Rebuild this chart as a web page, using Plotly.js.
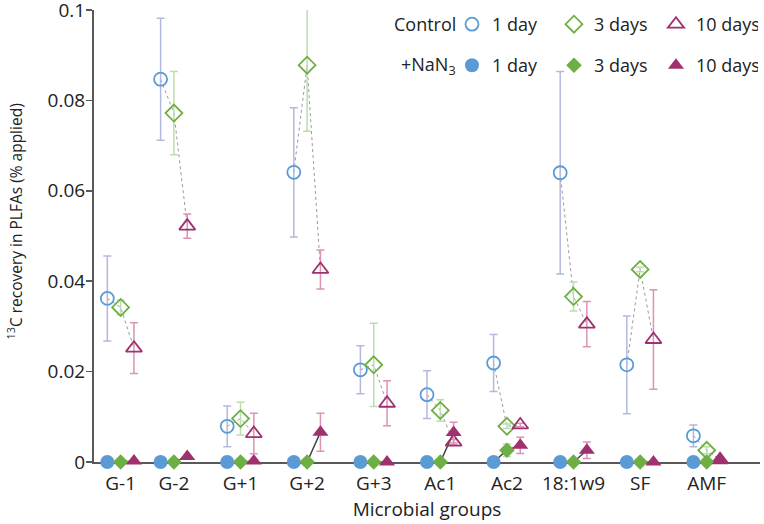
<!DOCTYPE html>
<html>
<head>
<meta charset="utf-8">
<script src="https://cdn.plot.ly/plotly-3.0.1.min.js"></script>
<style>html,body{margin:0;padding:0;background:#fff;}#chart{width:764px;height:524px;}</style>
</head>
<body>
<div id="chart"></div>
<script>
// ---- data ----
const groups = ['G-1','G-2','G+1','G+2','G+3','Ac1','Ac2','18:1w9','SF','AMF'];
const groupX = [1.2, 2, 3, 4, 5, 6, 7, 8, 9, 10];
const dayLabels = ['1 day', '3 days', '10 days'];
const yTicks = [0, 0.02, 0.04, 0.06, 0.08, 0.1];
const yTickText = ['0', '0.02', '0.04', '0.06', '0.08', '0.1'];

const ctrl1    = [0.0362, 0.0847, 0.0079, 0.0641, 0.0204, 0.0149, 0.0219, 0.0640, 0.0215, 0.0058];
const ctrl1Err = [0.0094, 0.0135, 0.0045, 0.0143, 0.0053, 0.0053, 0.0063, 0.0224, 0.0108, 0.0024];
const ctrl3    = [0.0342, 0.0772, 0.0096, 0.0878, 0.0215, 0.0114, 0.0079, 0.0366, 0.0426, 0.0026];
const ctrl3Err = [0.0016, 0.0092, 0.0036, 0.0146, 0.0092, 0.0024, 0.0005, 0.0032, 0.0005, 0.0008];
const ctrl10   = [0.0252, 0.0522, 0.0063, 0.0426, 0.0130, 0.0044, 0.0082, 0.0305, 0.0271, 0.0005];
const ctrl10Err= [0.0056, 0.0027, 0.0045, 0.0043, 0.0050, 0.0006, 0.0004, 0.0050, 0.0110, 0.0005];

const nan1     = [0, 0, 0, 0, 0, 0, 0, 0, 0, 0];
const nan1Err  = [0, 0, 0, 0, 0, 0, 0, 0, 0, 0];
const nan3     = [0, 0, 0, 0, 0, 0, 0.0026, 0, 0, 0];
const nan3Err  = [0, 0, 0, 0, 0, 0, 0.0014, 0, 0, 0];
const nan10    = [0.0002, 0.0012, 0.0002, 0.0066, 0, 0.0065, 0.0037, 0.0026, 0, 0.0004];
const nan10Err = [0, 0, 0, 0.0042, 0, 0.0023, 0.0018, 0.0018, 0, 0];

// ---- styles ----
const FONT = 'Open Sans, Noto Sans, sans-serif';
const DAY_OFFSET = [-0.2, 0, 0.2];
const BLUE = '#5B9BD5', GREEN = '#6DAF45', MAG = '#A0306E';
const EBLUE = '#B3B8DE', EGREEN = '#BCDDAE', EMAG = '#DC93B4';

function xs(k){ return groupX.map(g => g + DAY_OFFSET[k]); }

function connector(sets, color, dash, width){
  const x = [], y = [];
  groupX.forEach((g, i) => {
    sets.forEach((s, k) => { x.push(g + DAY_OFFSET[k]); y.push(s[i]); });
    x.push(null); y.push(null);
  });
  return {x, y, type:'scatter', mode:'lines', showlegend:false, hoverinfo:'skip',
          line:{color, dash, width}, cliponaxis:false};
}

function pts(k, vals, errs, symbol, color, ecolor, size, lw, legend){
  return {
    x: xs(k), y: vals, type:'scatter', mode:'markers', name: dayLabels[k],
    legend: legend, cliponaxis:false,
    marker:{symbol, size, color, line:{color, width:lw}},
    error_y:{type:'data', array: errs, visible:true, color: ecolor, thickness:1.5, width:4}
  };
}

const traces = [
  connector([ctrl1, ctrl3, ctrl10], '#9a9a9a', 'dot', 1),
  connector([nan1, nan3, nan10], '#444444', 'solid', 1.5),
  pts(0, ctrl1, ctrl1Err, 'circle-open', BLUE, EBLUE, 13, 1.8, 'legend'),
  pts(1, ctrl3, ctrl3Err, 'diamond-open', GREEN, EGREEN, 13, 1.8, 'legend'),
  pts(2, ctrl10, ctrl10Err, 'triangle-up-open', MAG, EMAG, 14, 1.8, 'legend'),
  pts(0, nan1, nan1Err, 'circle', BLUE, EBLUE, 14, 0, 'legend2'),
  pts(1, nan3, nan3Err, 'diamond', GREEN, EGREEN, 12, 0, 'legend2'),
  pts(2, nan10, nan10Err, 'triangle-up', MAG, EMAG, 14, 0, 'legend2')
];

const legendCommon = {
  orientation:'h', xanchor:'left', yanchor:'middle',
  entrywidth:57, entrywidthmode:'pixels', itemwidth:30,
  font:{family:FONT, size:18, color:'#222'}, bgcolor:'rgba(0,0,0,0)', tracegroupgap:0
};

const layout = {
  width:764, height:524,
  margin:{l:94, r:4, t:10, b:62},
  paper_bgcolor:'#fff', plot_bgcolor:'#fff',
  font:{family:FONT, size:18, color:'#222'},
  showlegend:true,
  legend: Object.assign({}, legendCommon, {x:0.5375, y:0.968}),
  legend2: Object.assign({}, legendCommon, {x:0.5375, y:0.877}),
  xaxis:{
    range:[0.8, 10.8], tickvals: groupX, ticktext: groups,
    showgrid:false, zeroline:false, showline:true, linecolor:'#595959', linewidth:2,
    ticks:'', ticklabelstandoff:3, layer:'below traces', tickfont:{family:FONT, size:19, color:'#222'},
    title:{text:'Microbial groups', font:{family:FONT, size:19, color:'#222'}, standoff:2}
  },
  yaxis:{
    range:[0, 0.10001], tickvals: yTicks, ticktext: yTickText,
    showgrid:false, zeroline:false, showline:true, linecolor:'#595959', linewidth:2,
    ticks:'outside', ticklen:6, tickcolor:'#595959', tickwidth:1.5, ticklabelstandoff:-3,
    ticklabeloverflow:'allow',
    layer:'below traces', tickfont:{family:FONT, size:19, color:'#222'}
  },
  annotations:[
    {text:'<sup>13</sup>C recovery in PLFAs (% applied)', textangle:-90,
     xref:'paper', yref:'paper', x:-0.118, y:0.533, xanchor:'center', yanchor:'middle',
     showarrow:false, font:{family:FONT, size:15.5, color:'#222'}},
    {text:'Control', xref:'paper', yref:'paper', x:0.5465, y:0.968, xanchor:'right', yanchor:'middle',
     showarrow:false, font:{family:FONT, size:18, color:'#222'}},
    {text:'+NaN<sub>3</sub>', xref:'paper', yref:'paper', x:0.5465, y:0.877, xanchor:'right', yanchor:'middle',
     showarrow:false, font:{family:FONT, size:18, color:'#222'}}
  ]
};

Plotly.newPlot('chart', traces, layout, {staticPlot:true, displayModeBar:false});
</script>
</body>
</html>
